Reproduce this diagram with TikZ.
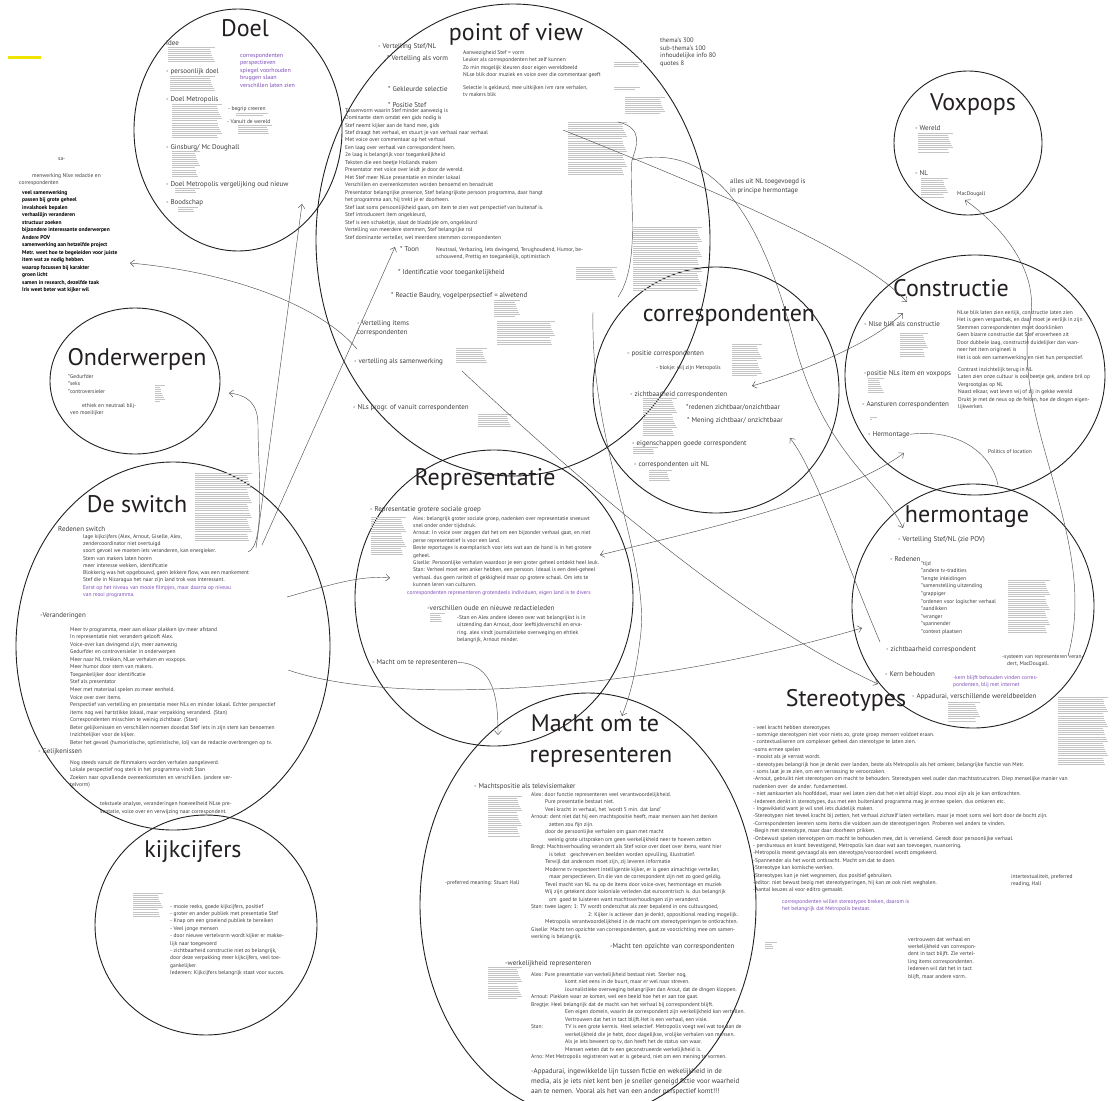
\documentclass[tikz,border=0pt]{standalone}
\usepackage{fontspec}
\setmainfont{PT Sans}
\usetikzlibrary{arrows.meta,positioning}

\definecolor{ink}{HTML}{231F20}
\definecolor{txtc}{HTML}{3C3C3C}
\definecolor{purp}{HTML}{7D4CB8}
\definecolor{blokc}{HTML}{C4C4C4}
\definecolor{lnkc}{HTML}{505050}
\definecolor{hili}{HTML}{F0E400}

% grey block of unreadable notes: x1 y1 x2 y2
\newcommand{\blok}[4]{%
  \foreach \k in {0,...,36}{%
    \pgfmathsetmacro{\yy}{#2+2.1*\k}%
    \pgfmathsetmacro{\xx}{#3-mod(\k*13,7)*0.9}%
    \pgfmathtruncatemacro{\ok}{(\yy<=#4)}%
    \ifnum\ok=1 \draw[blokc, line width=0.8pt] (#1,\yy) -- (\xx,\yy);\fi
  }}

\begin{document}
\begin{tikzpicture}[x=1pt,y=-1pt,
		bubble/.style={draw=ink, line width=0.9pt},
		ttl/.style={font=\fontsize{24}{28}\selectfont, text=ink, inner sep=0pt, anchor=base},
		hd/.style={font=\fontsize{7}{9}\selectfont, text=txtc, inner sep=0pt, anchor=base west},
		hdm/.style={font=\fontsize{7}{9}\selectfont, text=txtc, inner sep=0pt, anchor=north west, align=left},
		bd/.style={font=\fontsize{5.5}{7.5}\selectfont, text=txtc, inner sep=0pt, anchor=north west, align=left},
		pbd/.style={bd, text=purp},
		lnk/.style={draw=lnkc, line width=0.45pt},
		arr/.style={lnk, -{Straight Barb[length=4pt,width=7pt]}},
		darr/.style={lnk, {Straight Barb[length=4pt,width=7pt]}-{Straight Barb[length=4pt,width=7pt]}}
	]
	\useasboundingbox (0,0) rectangle (1113,1100);
	\clip (0,0) rectangle (1113,1100);

	% bubbles
	\draw[bubble] (238,130) ellipse [x radius=104pt, y radius=121pt];
	\draw[bubble] (513,240) ellipse [x radius=197pt, y radius=236pt];
	\draw[bubble] (968,143) ellipse [x radius=74pt, y radius=72pt];
	\draw[bubble] (975,375) ellipse [x radius=130pt, y radius=120pt];
	\draw[bubble] (716,390) ellipse [x radius=123pt, y radius=123pt];
	\draw[bubble] (135,381) ellipse [x radius=85pt, y radius=73pt];
	\draw[bubble] (173,646) ellipse [x radius=157pt, y radius=184pt];
	\draw[bubble] (206,925) ellipse [x radius=111pt, y radius=110pt];
	\draw[bubble] (494,598) ellipse [x radius=139pt, y radius=148pt];
	\draw[bubble] (588,905) ellipse [x radius=168pt, y radius=212pt];
	\draw[bubble] (973,606) ellipse [x radius=121pt, y radius=122pt];

	\fill[hili] (8,56) rectangle (41,59);

	% grey note blocks
	\blok{168}{47}{215}{63}
	\blok{170}{76}{215}{92}
	\blok{172}{104}{222}{139}
	\blok{236}{113}{268}{117}
	\blok{238}{125}{272}{135}
	\blok{172}{151}{200}{178}
	\blok{175}{188}{200}{194}
	\blok{178}{207}{198}{212}
	\blok{155}{385}{165}{403}
	\blok{195}{473}{252}{542}
	\blok{133}{893}{163}{918}
	\blok{614}{62}{643}{68}
	\blok{614}{87}{640}{90}
	\blok{625}{97}{665}{115}
	\blok{568}{122}{627}{175}
	\blok{633}{227}{702}{292}
	\blok{576}{267}{617}{280}
	\blok{494}{300}{520}{318}
	\blok{497}{321}{555}{345}
	\blok{456}{348}{487}{363}
	\blok{478}{414}{512}{428}
	\blok{918}{133}{953}{152}
	\blok{921}{178}{948}{197}
	\blok{900}{333}{928}{357}
	\blok{868}{378}{884}{394}
	\blok{870}{417}{877}{420}
	\blok{732}{344}{762}{376}
	\blok{643}{398}{677}{437}
	\blok{633}{447}{658}{454}
	\blok{649}{470}{672}{482}
	\blok{371}{517}{406}{555}
	\blok{430}{613}{445}{622}
	\blok{488}{796}{522}{838}
	\blok{765}{942}{777}{950}
	\blok{488}{967}{522}{1000}
	\blok{1008}{580}{1050}{633}
	\blok{948}{702}{980}{722}
	\blok{1058}{697}{1108}{765}

	% left notes
	\node[bd] (sa) at (58,157) {sa-};
	\node[bd] (samw) at (32,173) {menwerking Nlse redactie en};
	\node[bd] (samc) at (19,180) {correspondenten};
	\node[bd, font=\fontsize{5.5}{7.5}\selectfont\bfseries, text=black] (samlist) at (22,190)
		{veel samenwerking\\passen bij grote geheel\\invalshoek bepalen\\verhaallijn veranderen\\structuur zoeken\\bijzondere interessante onderwerpen\\Andere POV\\samenwerking aan hetzelfde project\\Metr. weet hoe te begeleiden voor juiste\\item wat ze nodig hebben.\\waarop focussen bij karakter\\groen licht\\samen in research, dezelfde taak\\Iris weet beter wat kijker wil};

	% Doel
	\node[ttl] (doel) at (245,36) {Doel};
	\node[hd] (idee) at (166,45) {idee};
	\node[hd] (pdoel) at (166,73) {- persoonlijk doel};
	\node[pbd, font=\fontsize{6}{7.5}\selectfont] (doelp) at (240,53) {correspondenten\\perspectieven\\spiegel voorhouden\\bruggen slaan\\verschillen laten zien};
	\node[hd] (dmetro) at (166,101) {- Doel Metropolis};
	\node[bd] (begrip) at (228,106) {- begrip creeren};
	\node[bd] (vanuit) at (227,119) {- Vanuit de wereld};
	\node[hd] (ginsb) at (166,149) {- Ginsburg/ Mc Doughall};
	\node[hd] (dmvgl) at (166,186) {- Doel Metropolis vergelijking oud nieuw};
	\node[hd] (bood) at (166,204) {- Boodschap};

	% Onderwerpen
	\node[ttl] (onderw) at (137,365) {Onderwerpen};
	\node[bd] (gedurf) at (68,374) {*Gedurfder\\{}*seks\\{}*controversieler};
	\node[bd] (ethiek) at (70,403) {\hspace*{12pt}ethiek en neutraal blij-\\ven moeilijker};

	% De switch
	\node[ttl] (switch) at (137,512) {De switch};
	\node[hd] (redsw) at (58,531) {Redenen switch};
	\node[bd, font=\fontsize{5.5}{7.3}\selectfont] (redlist) at (83,534)
		{lage kijkcijfers (Alex, Arnout, Giselle, Alex,\\zendercoordinator niet overtuigd\\soort gevoel we moeten iets veranderen, kan energieker.\\Stem van makers laten horen\\meer interesse wekken, identificatie\\Blokkerig was het opgebouwd, geen lekkere flow, was een mankement\\Stef die in Nicaragua het naar zijn land trok was interessant.\\\textcolor{purp}{Eerst op het niveau van mooie filmpjes, maar daarna op niveau}\\\textcolor{purp}{van mooi programma.}};
	\node[hd] (veran) at (40,617) {-Veranderingen};
	\node[bd, font=\fontsize{5.5}{7.55}\selectfont] (veranlist) at (70,627)
		{Meer tv programma, meer aan elkaar plakken ipv meer afstand\\In representatie niet verandert gelooft Alex.\\Voice-over kan dwingend zijn, meer aanwezig\\Gedurfder en controversieler in onderwerpen\\Meer naar NL trekken, NLse verhalen en voxpops.\\Meer humor door stem van makers.\\Toegankelijker door identificatie\\Stef als presentator\\Meer met materiaal spelen zo meer eenheid.\\Voice over over items.\\Perspectief van vertelling en presentatie meer NLs en minder lokaal. Echter perspectief\\items nog wel hartstikke lokaal, maar verpakking veranderd. (Stan)\\Correspondenten misschien te weinig zichtbaar. (Stan)\\Beter gelijkenissen en verschillen noemen doordat Stef iets in zijn stem kan benoemen\\Inzichtelijker voor de kijker.\\Beter het gevoel (humoristische, optimistische, lol) van de redactie overbrengen op tv.};
	\node[hd] (gelijk) at (38,753) {- Gelijkenissen};
	\node[bd] (gelijklist) at (70,760)
		{Nog steeds vanuit de filmmakers worden verhalen aangeleverd.\\Lokale perspectief nog sterk in het programma vindt Stan\\Zoeken naar opvallende overeenkomsten en verschillen. (andere ver-\\telvorm)};
	\node[bd, font=\fontsize{5.5}{8}\selectfont] (tekst) at (100,801)
		{tekstuele analyse, veranderingen hoeveelheid NLse pre-\\sentatie, voice over en verwijzing naar correspondent.};

	% kijkcijfers
	\node[ttl] (kijk) at (193,857) {kijkcijfers};
	\node[bd, font=\fontsize{5.5}{7.4}\selectfont] (kijklist) at (170,904)
		{- mooie reeks, goede kijkcijfers, positief\\- groter en ander publiek met presentatie Stef\\- Knap om een groeiend publiek te bereiken\\- Veel jonge mensen\\- door nieuwe vertelvorm wordt kijker er makke-\\lijk naar toegevoerd\\- zichtbaarheid constructie niet zo belangrijk,\\door deze verpakking meer kijkcijfers, veel toe-\\gankelijker.\\Iedereen: Kijkcijfers belangrijk staat voor succes.};

	% point of view
	\node[ttl] (pov) at (516,40) {point of view};
	\node[hd] (vsnl) at (378,48) {- Vertelling Stef/NL};
	\node[hd] (vvorm) at (387,60) {* Vertelling als vorm};
	\node[bd, font=\fontsize{5.5}{7.6}\selectfont] (aanw) at (463,50)
		{Aanwezigheid Stef = vorm\\Leuker als correspondenten het zelf kunnen\\Zo min mogelijk kleuren door eigen wereldbeeld\\NLse blik door muziek en voice over die commentaar geeft};
	\node[hd] (gekl) at (388,91) {* Gekleurde selectie};
	\node[bd, font=\fontsize{5.5}{7}\selectfont] (selec) at (463,85)
		{Selectie is gekleurd, mee uitkijken ivm rare verhalen,\\tv makers blik};
	\node[hd] (posst) at (388,107) {* Positie Stef};
	\node[bd, font=\fontsize{5.5}{7.47}\selectfont] (poslist) at (345,108)
		{Tussenvorm waarin Stef minder aanwezig is\\Dominante stem omdat een gids nodig is\\Stef neemt kijker aan de hand mee, gids\\Stef draagt het verhaal, en stuurt je van verhaal naar verhaal\\Met voice over commentaar op het verhaal\\Een laag over verhaal van correspondent heen.\\2e laag is belangrijk voor toegankelijkheid\\Teksten die een beetje Hollands maken\\Presentator met voice over leidt je door de wereld.\\Met Stef meer NLse presentatie en minder lokaal\\Verschillen en overeenkomsten worden benoemd en benadrukt\\Presentator belangrijke presence, Stef belangrijkste persoon programma, daar hangt\\het programma aan, hij trekt je er doorheen.\\Stef laat soms persoonlijkheid gaan, om item te zien wat perspectief van buitenaf is.\\Stef introduceert item ongekleurd,\\Stef is een schakeltje, slaat de bladzijde om, ongekleurd\\Vertelling van meerdere stemmen, Stef belangrijke rol\\Stef dominante verteller, wel meerdere stemmen correspondenten};
	\node[hd] (toon) at (400,251) {* Toon};
	\node[bd, font=\fontsize{5.5}{7}\selectfont] (toonl) at (436,247)
		{Neutraal, Verbazing, Iets dwingend, Terughoudend, Humor, be-\\schouwend, Prettig en toegankelijk, optimistisch};
	\node[hd] (ident) at (398,274) {* Identificatie voor toegankelijkheid};
	\node[hd] (baud) at (391,297) {* Reactie Baudry, vogelperpsectief = alwetend};
	\node[hdm] (vitems) at (357,320) {- Vertelling items\\correspondenten};
	\node[hd] (vsamen) at (354,363) {- vertelling als samenwerking};
	\node[hd] (nlsprogr) at (353,409) {- NLs progr. of vanuit correspondenten};

	\node[bd, font=\fontsize{6.5}{7.4}\selectfont] (themas) at (660,38)
		{thema's 300\\sub-thema's 100\\inhoudelijke info 80\\quotes 8};
	\node[bd, font=\fontsize{6.8}{9.3}\selectfont] (allesnl) at (730,178)
		{alles uit NL toegevoegd is\\in principe hermontage};

	% Voxpops
	\node[ttl] (voxpops) at (973,110) {Voxpops};
	\node[hd] (wereld) at (915,130) {- Wereld};
	\node[hd] (vnl) at (915,175) {- NL};
	\node[bd] (macd) at (957,191) {MacDougall};

	% Constructie
	\node[ttl] (constr) at (951,296) {Constructie};
	\node[hd] (nlseblik) at (864,326) {- Nlse blik als constructie};
	\node[bd] (nlsetxt) at (957,310)
		{NLse blik laten zien eerlijk, constructie laten zien\\Het is geen vergaarbak, en daar moet je eerlijk in zijn\\Stemmen correspondenten moet doorklinken\\Geen bizarre constructie dat Stef eroverheen zit\\Door dubbele laag, constructie duidelijker dan wan-\\neer het item origineel is\\Het is ook een samenwerking en niet hun perspectief.};
	\node[bd] (contrast) at (958,367)
		{Contrast inzichtelijk terug in NL\\Laten zien onze cultuur is ook beetje gek, andere bril op\\Vergrootglas op NL\\Naast elkaar, wat leven wij of zij in gekke wereld\\Drukt je met de neus op de feiten, hoe de dingen eigen-\\lijkwerken.};
	\node[hd] (posnl) at (864,375) {-positie NLs item en voxpops};
	\node[hd] (aanst) at (862,406) {- Aansturen correspondenten};
	\node[hd] (hermk) at (868,436) {- Hermontage};
	\node[bd] (politics) at (988,449) {Politics of location};

	% correspondenten
	\node[ttl] (corr) at (729,321) {correspondenten};
	\node[hd] (poscor) at (627,355) {- positie correspondenten};
	\node[bd] (blokje) at (656,365) {- blokje: wij zijn Metropolis};
	\node[hd] (zicht) at (630,396) {- zichtbaarheid correspondenten};
	\node[hd] (redzicht) at (686,409) {*redenen zichtbaar/onzichtbaar};
	\node[hd] (menzicht) at (687,422) {* Mening zichtbaar/ onzichtbaar};
	\node[hd] (eigensch) at (632,445) {- eigenschappen goede correspondent};
	\node[hd] (coruitnl) at (634,466) {- correspondenten uit NL};

	% Representatie
	\node[ttl] (repr) at (485,485) {Representatie};
	\node[hd] (repgroep) at (370,511) {- Representatie grotere sociale groep};
	\node[bd, font=\fontsize{5.5}{7.4}\selectfont] (replist) at (413,516)
		{Alex: belangrijk groter sociale groep, nadenken over representatie sneeuwt\\snel onder onder tijdsdruk.\\Arnout: In voice over zeggen dat het om een bijzonder verhaal gaat, en niet\\perse representatief is voor een land.\\Beste reportages is exemplarisch voor iets wat aan de  hand is in het grotere\\geheel.\\Giselle: Persoonlijke verhalen waardoor je een groter geheel ontdekt heel leuk.\\Stan: Verheel moet een anker hebben, een persoon. Ideaal is een deel-geheel\\verhaal. dus geen rariteit of gekkigheid maar op grotere schaal. Om iets te\\kunnen leren van culturen.};
	\node[pbd] (corrrep) at (407,590) {correspondenten representeren grotendeels individuen, eigen land is te divers};
	\node[hd] (versch) at (427,610) {-verschillen oude en nieuwe redactieleden};
	\node[bd] (stanalex) at (457,615)
		{-Stan en Alex andere ideeen over wat belangrijkst is in\\uitzending dan Arnout, door leeftijdsverschil en erva-\\ring. alex vindt journalistieke overweging en ehtiek\\belangrijk, Arnout minder.};
	\node[hd] (machtrep) at (372,664) {- Macht om te representeren};

	% Macht om te representeren
	\node[ttl] (macht) at (595,731) {Macht om te};
	\node[ttl] (machtb) at (601,762) {representeren};
	\node[hd] (machtpos) at (474,788) {- Machtspositie als televisiemaker};
	\node[bd, font=\fontsize{5.5}{7.5}\selectfont] (machtlist) at (531,792)
		{Alex: door functie representeren veel verantwoordelijkheid.\\
		\hspace*{14pt}Pure presentatie bestaat niet.\\
		\hspace*{14pt}Veel kracht in verhaal, het 'wordt 5 min. dat land'\\
		Arnout: dent niet dat hij een machtspositie heeft, maar mensen aan het denken\\
		\hspace*{18pt}zetten zou fijn zijn.\\
		\hspace*{14pt}door de persoonlijke verhalen om gaan met macht\\
		\hspace*{17pt}weinig grote uitspraken om geen werkelijkheid neer te hoeven zetten\\
		Bregt: Machtsverhouding verandert als Stef voice over doet over items, want hier\\
		\hspace*{18pt}is tekst \ \ geschreven en beelden worden opvulling, illustratief.\\
		\hspace*{14pt}Terwijl dat andersom moet zijn, zij leveren informatie\\
		\hspace*{14pt}Moderne tv respecteert intelligentie kijker, er is geen almachtige verteller,\\
		\hspace*{18pt}maar perspectieven. En die van de correspondent zijn net zo goed geldig.\\
		\hspace*{14pt}Tevel macht van NL nu op de items door voice-over, hermontage en muziek\\
		\hspace*{14pt}Wij zijn getekent door koloniale verleden dat eurocentrisch is. dus belangrijk\\
		\hspace*{18pt}om \ goed te luisteren want machtsverhoudingen zijn veranderd.\\
		Stan: twee lagen: 1: TV wordt onderschat als zeer bepalend in ons cultuurgoed,\\
		\hspace*{57pt}2: Kijker is actiever dan je denkt, oppositional reading mogelijk.\\
		\hspace*{14pt}Metropolis verantwoordelijkheid in de macht om stereotyperingen te ontkrachten.\\
		Giselle: Macht ten opzichte van correspondenten, gaat ze voorzichting mee om samen-\\
		werking is belangrijk.};
	\node[bd] (prefm) at (445,880) {-preferred meaning: Stuart Hall};
	\node[hd] (machtcor) at (610,948) {-Macht ten opzichte van correspondenten};
	\node[hd] (werkrep) at (505,965) {-werkelijkheid representeren};
	\node[bd, font=\fontsize{5.5}{7.5}\selectfont] (werklist) at (531,972)
		{Alex: Pure presentatie van werkelijkheid bestaat niet. Sterker nog,\\
		\hspace*{34pt}komt niet eens in de buurt, maar er wel naar streven.\\
		\hspace*{34pt}Journalistieke overweging belangrijker dan Arout, dat de dingen kloppen.\\
		Arnout: Plekken waar ze komen, wel een beeld hoe het er aan toe gaat.\\
		Bregtje: Heel belangrijk dat de macht van het verhaal bij correspondent blijft.\\
		\hspace*{34pt}Een eigen domein, waarin de correspondent zijn werkelijkheid kan vertellen.\\
		\hspace*{34pt}Vertrouwen dat het in tact blijft.Het is een verhaal, een visie.\\
		\makebox[34pt][l]{Stan:}TV is een grote kermis. Heel selectief. Metropolis voegt wel wat toe aan de\\
		\hspace*{34pt}werkelijkheid die je hebt, door dagelijkse, vrolijke verhalen van mensen.\\
		\hspace*{34pt}Als je iets beweert op tv, dan heeft het de status van waar.\\
		\hspace*{34pt}Mensen weten dat tv een geconstrueerde werkelijkheid is.\\
		Arno: Met Metropolis registreren wat er is gebeurd, niet om een mening te vormen.};
	\node[bd, font=\fontsize{7}{10}\selectfont] (appad) at (531,1068)
		{-Appadurai, ingewikkelde lijn tussen fictie en wekelijkheid in de\\media, als je iets niet kent ben je sneller geneigd fictie voor waarheid\\aan te nemen. Vooral als het van een ander perspectief komt!!!};

	% Stereotypes
	\node[ttl] (stereo) at (846,706) {Stereotypes};
	\node[bd, font=\fontsize{5.5}{7.4}\selectfont] (stereolist) at (753,725)
		{- veel kracht hebben stereotypes\\- sommige stereotypen niet voor niets zo, grote groep mensen voldoet eraan.\\- contextualiseren om complexer geheel dan stereotype te laten zien.\\-soms ermee spelen\\- mooist als je verrast wordt.\\- stereotypes belangrijk hoe je denkt over landen, beste als Metropolis als het omkeer, belangrijke functie van Metr.\\- soms laat je ze zien, om een verrassing te veroorzaken.\\-Arnout, gebruikt niet stereotypen om macht te behouden. Stereotypen veel ouder dan machtsstrucutren. Diep menselijke manier van\\nadenken over \ de ander. fundamenteel.\\- niet aankaarten als hoofddoel, maar wel laten zien dat het niet altijd klopt. zou mooi zijn als je kan ontkrachten.\\-Iedereen denkt in stereotypes, dus met een buitenland programma mag je ermee spelen. dus omkeren etc.\\- Ingewikkeld want je wil snel iets duidelijk maken.\\-Stereotypen niet teveel kracht bij zetten, het verhaal zichzelf laten vertellen. maar je moet soms wel kort door de bocht zijn.\\-Correspondenten leveren soms items die voldoen aan de stereotyperingen. Proberen wel anders te vinden.\\-Begin met stereotype, maar daar doorheen prikken.\\-Onbewust spelen stereotypen om macht te behouden mee, dat is vervelend. Geredt door persoonlijke verhaal.\\- persbureaus en krant bevestigend, Metropolis kan daar wat aan toevoegen, nuancering.\\-Metropolis meest gevraagd als een stereotype/vooroordeel wordt omgekeerd.\\-Spannender als het wordt ontkracht. Macht om dat te doen.\\-Stereotype kan komische werken.\\-Stereotypes kan je niet wegnemen, dus positief gebruiken.\\-editor: niet bewust bezig met stereotyperingen, hij kan ze ook niet weghalen.\\-Aantal keuzes al voor editro gemaakt.};
	\node[pbd, font=\fontsize{5.5}{7.3}\selectfont] (stereop) at (782,899)
		{correspondenten willen stereotypes breken, daarom is\\het belangrijk dat Metropolis bestaat.};
	\node[bd, font=\fontsize{5.5}{7.3}\selectfont] (intertxt) at (1011,874) {intertextualiteit, preferred\\reading, Hall};
	\node[bd, font=\fontsize{5.5}{7.4}\selectfont] (vertrouw) at (908,937)
		{vertrouwen dat verhaal en\\werkelijkheid van correspon-\\dent in tact blijft. Zie vertel-\\ling items correspondenten.\\Iedereen wil dat het in tact\\blijft, maar andere vorm.};

	% hermontage
	\node[ttl] (herm) at (967,522) {hermontage};
	\node[hd] (vsnlpov) at (898,541) {- Vertelling Stef/NL (zie POV)};
	\node[hd] (reden) at (890,561) {- Redenen};
	\node[bd, font=\fontsize{5.5}{7.6}\selectfont] (redenlist) at (921,561)
		{*tijd\\{}*andere tv-tradities\\{}*lengte inleidingen\\{}*samenstelling uitzending\\{}*grappiger\\{}*ordenen voor logischer verhaal\\{}*aandikken\\{}*wranger\\{}*spannender\\{}*context plaatsen};
	\node[hd] (zichtc) at (886,651) {- zichtbaarheid correspondent};
	\node[bd, font=\fontsize{5.5}{7}\selectfont] (systeem) at (1002,655) {-systeem van representeren veran-\\\hspace*{5pt}dert, MacDougall.};
	\node[hd] (kern) at (885,676) {- Kern behouden};
	\node[pbd, font=\fontsize{5.5}{7}\selectfont] (kernp) at (953,675) {-kern blijft behouden vinden corres-\\pondenten, blij met internet};
	\node[hd] (appw) at (912,698) {- Appadurai, verschillende wereldbeelden};

	% link end points
	\coordinate (lstA) at (130,263);
	\coordinate (vsA) at (357,349);
	\coordinate (swA) at (256,548);
	\coordinate (swB) at (262,545);
	\coordinate (swC) at (248,552);
	\coordinate (doelB) at (302,204);
	\coordinate (toonA) at (395,247);
	\coordinate (ondA) at (229,393);
	\coordinate (povA) at (563,130);
	\coordinate (brA) at (618,122);
	\coordinate (brB) at (632,160);
	\coordinate (brC) at (618,297);
	\coordinate (constA) at (907,302);
	\coordinate (constB) at (903,313);
	\coordinate (hermA) at (903,528);
	\coordinate (macdA) at (965,200);
	\coordinate (systA) at (1068,656);
	\coordinate (blokA) at (752,386);
	\coordinate (menA) at (790,438);
	\coordinate (zichtA) at (880,642);
	\coordinate (hermtop) at (998,485);
	\coordinate (repA) at (600,555);
	\coordinate (hermkA) at (904,453);
	\coordinate (samA) at (462,371);
	\coordinate (kernA) at (878,684);
	\coordinate (swD) at (288,670);
	\coordinate (zichtB) at (862,628);
	\coordinate (swE) at (287,597);
	\coordinate (repB) at (390,578);
	\coordinate (povB) at (593,312);
	\coordinate (machtA) at (622,716);
	\coordinate (machtB) at (498,735);

	% links
	\draw[arr] (vsA) .. controls (320,305) and (230,272) .. (lstA);
	\draw[arr] (swB) -- (toonA);
	\draw[arr] (swA) -- (doelB);
	\draw[arr] (swC) .. controls (266,545) and (258,470) .. (258,425) .. controls (258,402) and (246,395) .. (ondA);
	\draw[arr] (povA) .. controls (700,185) and (860,250) .. (constA);
	\draw[lnk] (brA) .. controls (645,128) and (636,148) .. (brB) .. controls (628,190) and (642,262) .. (brC);
	\draw[arr] (brB) .. controls (720,140) and (765,230) .. (795,345) .. controls (825,455) and (880,480) .. (hermA);
	\draw[arr] (systA) .. controls (1100,540) and (1010,420) .. (1030,320) .. controls (1040,270) and (1000,225) .. (macdA);
	\draw[darr] (blokA) .. controls (800,372) and (870,345) .. (constB);
	\draw[arr] (zichtA) .. controls (845,560) and (815,470) .. (menA);
	\draw[lnk] (hermk.east) .. controls (960,428) and (992,455) .. (hermtop);
	\draw[darr] (repA) .. controls (700,530) and (840,500) .. (hermkA);
	\draw[arr] (samA) .. controls (600,500) and (750,625) .. (kernA);
	\draw[arr] (swD) .. controls (400,708) and (650,690) .. (zichtB);
	\draw[arr] (swE) .. controls (330,585) and (360,575) .. (repB);
	\draw[arr] (povB) .. controls (590,450) and (652,560) .. (640,640) .. controls (635,680) and (628,700) .. (machtA);
	\draw[arr] (machtrep.east) .. controls (495,664) and (498,700) .. (machtB);
\end{tikzpicture}
\end{document}
